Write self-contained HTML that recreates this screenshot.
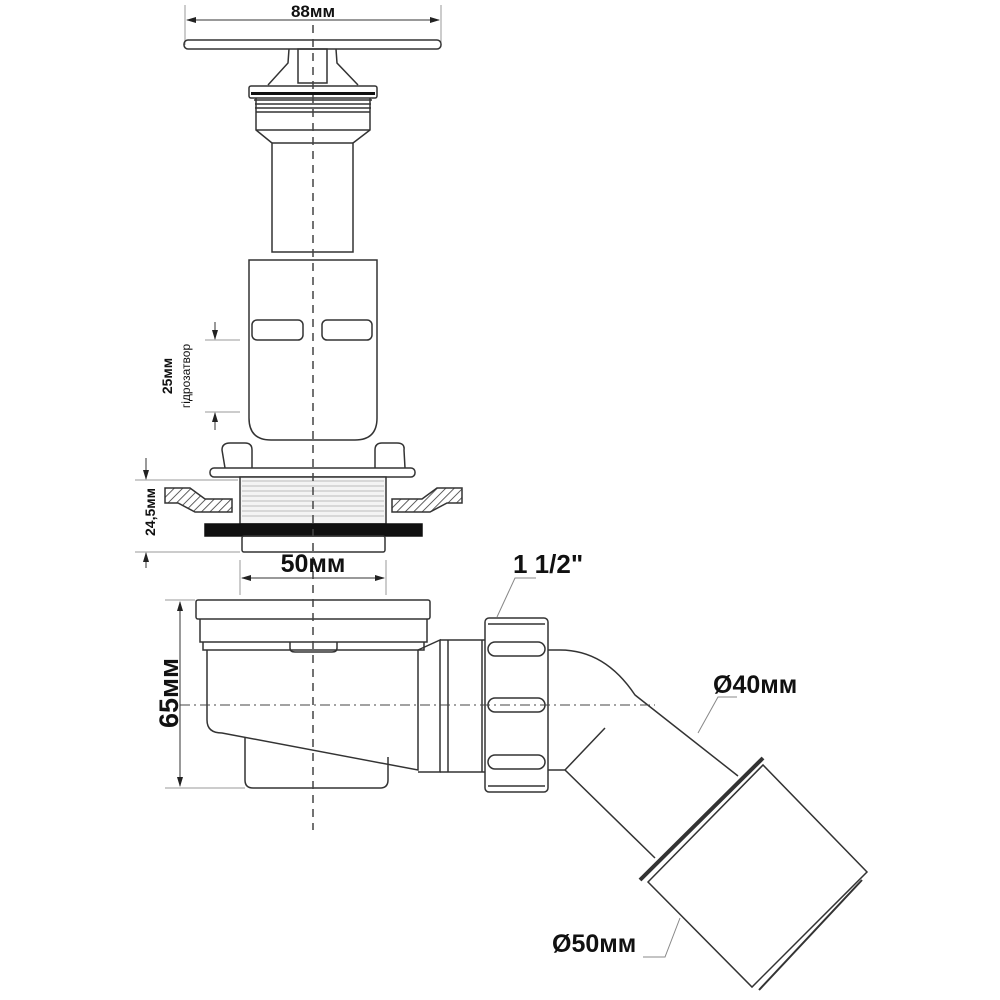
<!DOCTYPE html>
<html><head><meta charset="utf-8"><style>
html,body{margin:0;padding:0;background:#fff;}
svg{display:block;}
text{font-family:"Liberation Sans","DejaVu Sans",sans-serif;font-weight:bold;fill:#111;}
</style></head><body>
<svg width="1000" height="1000" viewBox="0 0 1000 1000" xmlns="http://www.w3.org/2000/svg">
<defs>
<pattern id="h" width="6" height="6" patternUnits="userSpaceOnUse" patternTransform="rotate(45)">
<line x1="0" y1="0" x2="0" y2="6" stroke="#333" stroke-width="1.6"/></pattern>
<marker id="a" markerWidth="10" markerHeight="8" refX="9" refY="4" orient="auto"><path d="M0,1 L10,4 L0,7 Z" fill="#222"/></marker>
</defs>
<g fill="none" stroke="#333" stroke-width="1.5">
<line x1="185" y1="5" x2="185" y2="45" stroke="#999" stroke-width="1"/>
<line x1="441" y1="5" x2="441" y2="45" stroke="#999" stroke-width="1"/>
<line x1="313" y1="20" x2="187" y2="20" stroke-width="1" marker-end="url(#a)"/>
<line x1="313" y1="20" x2="439" y2="20" stroke-width="1" marker-end="url(#a)"/>
<rect x="184" y="40" width="257" height="9" rx="4"/>
<path d="M289,49 L288,63 L268,85 M336,49 L337,63 L358,85"/>
<rect x="298" y="49" width="29" height="34"/>
<rect x="249" y="86" width="128" height="12" rx="2"/>
<rect x="251" y="92" width="124" height="3" fill="#111" stroke="none"/>
<path d="M254,100 H372 M255,104 H371 M255,108 H371 M256,112 H370"/>
<path d="M256,98 V130 L272,143 V252 H353 V143 L370,130 V98"/>
<line x1="256" y1="130" x2="370" y2="130"/>
<line x1="272" y1="143" x2="353" y2="143"/>
<path d="M249,260 H377 V418 Q377,440 355,440 H271 Q249,440 249,418 Z"/>
<rect x="252" y="320" width="51" height="20" rx="5"/>
<rect x="322" y="320" width="50" height="20" rx="5"/>
<line x1="205" y1="340" x2="240" y2="340" stroke="#999" stroke-width="1"/>
<line x1="205" y1="412" x2="240" y2="412" stroke="#999" stroke-width="1"/>
<line x1="215" y1="322" x2="215" y2="339" stroke-width="1" marker-end="url(#a)"/>
<line x1="215" y1="430" x2="215" y2="413" stroke-width="1" marker-end="url(#a)"/>
<path d="M225,468 L222,450 Q222,443 230,443 H245 Q252,443 252,450 L252,468"/>
<path d="M375,468 L375,450 Q375,443 382,443 H397 Q405,443 404,450 L405,468"/>
<rect x="210" y="468" width="205" height="9" rx="4"/>
<rect x="240" y="477" width="146" height="47" fill="#f4f4f4"/>
<path d="M242,481 H384 M242,486 H384 M242,491 H384 M242,496 H384 M242,501 H384 M242,506 H384 M242,511 H384 M242,516 H384" stroke="#bbb" stroke-width="1"/>
<path d="M165,488 H190 L205,499 H232 V512 H195 L178,503 H165 Z" fill="url(#h)"/>
<path d="M462,488 H437 L422,499 H392 V512 H430 L447,503 H462 Z" fill="url(#h)"/>
<rect x="205" y="524" width="217" height="12" fill="#111" stroke="#111"/>
<rect x="242" y="536" width="143" height="16" rx="2"/>
<line x1="135" y1="480" x2="238" y2="480" stroke="#999" stroke-width="1"/>
<line x1="135" y1="552" x2="240" y2="552" stroke="#999" stroke-width="1"/>
<line x1="146" y1="458" x2="146" y2="479" stroke-width="1" marker-end="url(#a)"/>
<line x1="146" y1="568" x2="146" y2="553" stroke-width="1" marker-end="url(#a)"/>
<line x1="240" y1="560" x2="240" y2="595" stroke="#999" stroke-width="1"/>
<line x1="386" y1="560" x2="386" y2="595" stroke="#999" stroke-width="1"/>
<line x1="313" y1="578" x2="242" y2="578" stroke-width="1" marker-end="url(#a)"/>
<line x1="313" y1="578" x2="384" y2="578" stroke-width="1" marker-end="url(#a)"/>
<rect x="196" y="600" width="234" height="19" rx="2"/>
<path d="M200,619 V642 H427 V619"/>
<path d="M203,642 V650 H424 V642"/>
<path d="M290,642 V648 Q290,652 295,652 H332 Q337,652 337,648 V642"/>
<path d="M207,650 V720 Q207,733 222,733 L418,770 V650"/>
<path d="M245,737 V780 Q245,788 253,788 H380 Q388,788 388,780 V757"/>
<path d="M418,650 L440,640 V772 H418"/>
<line x1="165" y1="600" x2="195" y2="600" stroke="#999" stroke-width="1"/>
<line x1="165" y1="788" x2="245" y2="788" stroke="#999" stroke-width="1"/>
<line x1="180" y1="694" x2="180" y2="602" stroke-width="1" marker-end="url(#a)"/>
<line x1="180" y1="694" x2="180" y2="786" stroke-width="1" marker-end="url(#a)"/>
<path d="M440,640 H485 M440,772 H485 M448,640 V772"/>
<rect x="485" y="618" width="63" height="174" rx="4"/>
<path d="M488,624 H545 M488,786 H545 M482,640 V772"/>
<rect x="488" y="642" width="57" height="14" rx="7"/>
<rect x="488" y="698" width="57" height="14" rx="7"/>
<rect x="488" y="755" width="57" height="14" rx="7"/>
<path d="M548,650 H560 Q605,650 635,695 L738,776"/>
<path d="M548,770 H565 L655,858"/>
<line x1="565" y1="770" x2="605" y2="728"/>
<line x1="640" y1="880" x2="763" y2="758" stroke-width="4"/>
<path d="M648,882 L763,765 L867,872 L752,987 Z"/>
<line x1="759" y1="990" x2="862" y2="880" stroke-width="2"/>
<path d="M497,617 L515,578 H536" stroke="#888" stroke-width="1"/>
<path d="M698,733 L718,697 H737" stroke="#888" stroke-width="1"/>
<path d="M680,918 L665,957 H643" stroke="#888" stroke-width="1"/>
<line x1="313" y1="25" x2="313" y2="830" stroke="#444" stroke-width="1.5" stroke-dasharray="8,6"/>
<line x1="180" y1="705" x2="655" y2="705" stroke="#444" stroke-width="1" stroke-dasharray="10,4,2,4"/>
</g>
<text x="313" y="17" font-size="17" text-anchor="middle">88мм</text>
<text x="313" y="572" font-size="25" text-anchor="middle">50мм</text>
<text x="513" y="573" font-size="26">1 1/2"</text>
<text x="713" y="693" font-size="25">Ø40мм</text>
<text x="552" y="952" font-size="25">Ø50мм</text>
<text transform="translate(178,693) rotate(-90)" font-size="27" text-anchor="middle">65мм</text>
<text transform="translate(155,512) rotate(-90)" font-size="14" text-anchor="middle">24,5мм</text>
<text transform="translate(172,376) rotate(-90)" font-size="14" text-anchor="middle">25мм</text>
<text transform="translate(190,376) rotate(-90)" font-size="12" text-anchor="middle" style="font-weight:normal">гідрозатвор</text>
</svg>
</body></html>
